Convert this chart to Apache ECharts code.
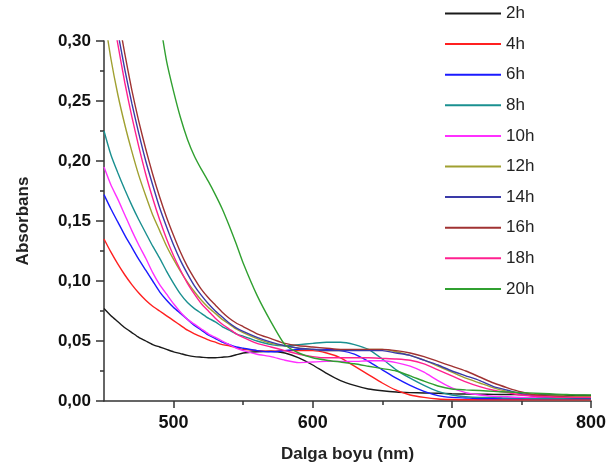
<!DOCTYPE html>
<html>
<head>
<meta charset="utf-8">
<script src="https://cdn.jsdelivr.net/npm/echarts@6/dist/echarts.min.js"></script>
<style>
html,body{margin:0;padding:0;background:#fff;}
#c{width:616px;height:468px;}
</style>
</head>
<body>
<div id="c"></div>
<script>
// wavelengths (nm)
var wl = [450,455,460,465,470,475,480,485,490,495,500,505,510,515,520,525,530,535,540,545,550,
          560,570,580,590,600,610,620,630,640,650,660,670,680,690,700,710,720,730,740,750,760,770,780,790,800];

var h2  = [0.077,0.071,0.066,0.061,0.057,0.053,0.050,0.047,0.045,0.043,0.041,0.0395,0.038,0.037,0.0365,0.036,0.036,0.0365,0.037,0.0385,0.040,
           0.041,0.0415,0.040,0.036,0.030,0.023,0.017,0.013,0.010,0.0085,0.0075,0.007,0.0067,0.0064,0.006,0.0058,0.0057,0.0055,0.0054,0.0052,0.005,0.005,0.0049,0.0048,0.0047];
var h4  = [0.135,0.124,0.114,0.105,0.097,0.090,0.084,0.079,0.075,0.071,0.067,0.063,0.059,0.056,0.0535,0.051,0.049,0.047,0.046,0.0445,0.043,
           0.042,0.0415,0.042,0.042,0.042,0.040,0.036,0.029,0.022,0.015,0.009,0.005,0.003,0.0017,0.0012,0.001,0.001,0.001,0.001,0.001,0.001,0.001,0.001,0.001,0.001];
var h6  = [0.172,0.160,0.149,0.138,0.128,0.118,0.109,0.100,0.091,0.084,0.078,0.073,0.068,0.063,0.059,0.055,0.052,0.049,0.047,0.045,0.044,
           0.042,0.041,0.042,0.043,0.043,0.043,0.042,0.039,0.033,0.026,0.019,0.013,0.008,0.0045,0.003,0.0025,0.002,0.002,0.002,0.002,0.002,0.002,0.002,0.002,0.002];
var h8  = [0.225,0.205,0.190,0.176,0.163,0.151,0.140,0.129,0.119,0.108,0.098,0.089,0.082,0.077,0.073,0.069,0.066,0.062,0.059,0.056,0.054,
           0.050,0.047,0.046,0.047,0.048,0.049,0.049,0.047,0.043,0.035,0.026,0.019,0.013,0.008,0.005,0.0035,0.003,0.003,0.0025,0.0025,0.002,0.002,0.002,0.002,0.002];
var h10 = [0.195,0.180,0.168,0.155,0.142,0.130,0.119,0.107,0.097,0.089,0.081,0.074,0.068,0.064,0.060,0.056,0.053,0.050,0.047,0.044,0.042,
           0.039,0.037,0.034,0.032,0.0325,0.033,0.033,0.033,0.0335,0.0335,0.032,0.029,0.024,0.017,0.011,0.007,0.005,0.004,0.0035,0.003,0.003,0.003,0.003,0.003,0.003];
var h12 = [0.322,0.285,0.255,0.230,0.208,0.188,0.171,0.155,0.142,0.129,0.118,0.108,0.099,0.091,0.084,0.078,0.073,0.068,0.064,0.060,0.057,
           0.052,0.048,0.046,0.044,0.043,0.042,0.042,0.0425,0.043,0.043,0.041,0.038,0.034,0.029,0.024,0.019,0.015,0.011,0.008,0.006,0.005,0.004,0.004,0.0035,0.0035];
var h14 = [0.380,0.340,0.307,0.276,0.248,0.223,0.200,0.180,0.161,0.145,0.130,0.117,0.106,0.096,0.088,0.081,0.075,0.070,0.065,0.061,0.058,
           0.053,0.049,0.046,0.044,0.043,0.042,0.042,0.042,0.042,0.042,0.040,0.038,0.034,0.030,0.025,0.021,0.017,0.012,0.009,0.006,0.004,0.0035,0.003,0.0025,0.0025];
var h16 = [0.400,0.360,0.322,0.289,0.259,0.233,0.210,0.189,0.170,0.153,0.138,0.124,0.112,0.102,0.093,0.086,0.080,0.074,0.069,0.065,0.062,
           0.056,0.052,0.048,0.046,0.045,0.044,0.043,0.043,0.043,0.043,0.042,0.040,0.037,0.033,0.029,0.025,0.020,0.015,0.011,0.0075,0.005,0.004,0.0035,0.003,0.003];
var h18 = [0.370,0.330,0.297,0.265,0.237,0.212,0.189,0.169,0.151,0.135,0.121,0.109,0.098,0.089,0.081,0.075,0.069,0.064,0.060,0.056,0.053,
           0.048,0.045,0.042,0.039,0.037,0.036,0.036,0.036,0.036,0.0355,0.035,0.034,0.031,0.026,0.021,0.016,0.012,0.009,0.007,0.005,0.004,0.0035,0.003,0.003,0.003];
var h20 = [null,null,null,null,null,null,null,null,0.318,0.283,0.258,0.236,0.218,0.204,0.193,0.183,0.172,0.160,0.146,0.131,0.115,
           0.088,0.066,0.047,0.040,0.036,0.034,0.0325,0.031,0.029,0.027,0.025,0.021,0.0165,0.0125,0.010,0.0093,0.0087,0.008,0.0075,0.007,0.0065,0.006,0.0055,0.005,0.005];

var names  = ['2h','4h','6h','8h','10h','12h','14h','16h','18h','20h'];
var values = [h2,h4,h6,h8,h10,h12,h14,h16,h18,h20];
var colors = ['#1a1a1a','#ff2020','#1a1aff','#1a9090','#ff30ff','#a0a030','#3a3aa8','#a03232','#ff2090','#30a030'];

var xMajor = [500,600,700,800];
var xMinor = [550,650,750];

var series = names.map(function(n,k){
  var d = [];
  for (var i=0;i<wl.length;i++){ if (values[k][i] !== null) d.push([wl[i], values[k][i]]); }
  return {
    name:n, type:'line', data:d, xAxisIndex:0, yAxisIndex:0,
    symbol:'none', smooth:0.2, clip:true,
    lineStyle:{width:1.4, color:colors[k]}, itemStyle:{color:colors[k]}
  };
});

var chart = echarts.init(document.getElementById('c'), null, {renderer:'canvas'});
chart.setOption({
  animation:false,
  backgroundColor:'#ffffff',
  grid:{left:104, right:25, top:41, bottom:66, containLabel:false},
  legend:{
    orient:'vertical', left:440, top:0, itemWidth:56, itemHeight:2, itemGap:13.6, icon:'rect',
    textStyle:{fontFamily:'Liberation Sans', fontSize:17, color:'#222', lineHeight:17},
    data:names
  },
  xAxis:[{
    type:'value', min:450, max:800,
    name:'Dalga boyu (nm)', nameLocation:'middle', nameGap:45,
    nameTextStyle:{fontFamily:'Liberation Sans', fontWeight:'bold', fontSize:17, color:'#222'},
    axisLine:{show:true, onZero:false, lineStyle:{color:'#333', width:1.5}},
    axisTick:{show:true, inside:false, length:7, customValues:xMajor, lineStyle:{color:'#333', width:1.5}},
    axisLabel:{customValues:xMajor, margin:13, fontFamily:'Liberation Sans', fontWeight:'bold', fontSize:18, color:'#111',
      formatter:function(v){return String(v);}},
    splitLine:{show:false}
  },{
    type:'value', min:450, max:800, position:'bottom', gridIndex:0,
    axisLine:{show:false},
    axisTick:{show:true, inside:false, length:4, customValues:xMinor, lineStyle:{color:'#333', width:1.5}},
    axisLabel:{show:false},
    splitLine:{show:false}
  }],
  yAxis:{
    type:'value', min:0, max:0.30, interval:0.05,
    name:'Absorbans', nameLocation:'middle', nameGap:72, nameRotate:90,
    nameTextStyle:{fontFamily:'Liberation Sans', fontWeight:'bold', fontSize:17, color:'#222'},
    axisLine:{show:true, onZero:false, lineStyle:{color:'#333', width:1.5}},
    axisTick:{show:true, inside:false, length:8, lineStyle:{color:'#333', width:1.5}},
    minorTick:{show:true, splitNumber:2, length:4, lineStyle:{color:'#333', width:1.5}},
    axisLabel:{margin:13, fontFamily:'Liberation Sans', fontWeight:'bold', fontSize:17, color:'#111',
      formatter:function(v){return v.toFixed(2).replace('.', ',');}},
    splitLine:{show:false}
  },
  series:series
});
</script>
</body>
</html>
